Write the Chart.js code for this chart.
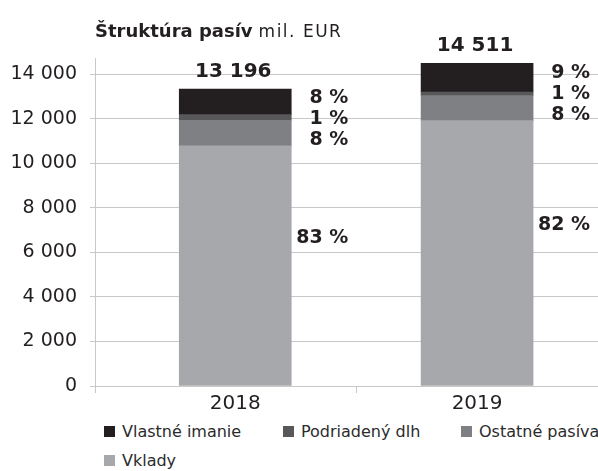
<!DOCTYPE html>
<html>
<head>
<meta charset="utf-8">
<script src="https://cdn.jsdelivr.net/npm/chart.js@4.4.1/dist/chart.umd.min.js"></script>
<style>
  html, body { margin: 0; padding: 0; background: #fff; }
  #wrap { position: relative; width: 598px; height: 471px; overflow: hidden; }
  #chart { display: block; }
  #legend {
    position: absolute; left: 104px; top: 422px;
    display: grid; grid-template-columns: 179px 178px 140px; row-gap: 11px;
    font: 16px "DejaVu Sans", sans-serif; color: #2b2b2b;
  }
  .item { display: flex; align-items: center; white-space: nowrap; height: 18px; }
  .box { width: 11px; height: 11px; margin-right: 7px; flex: none; }
</style>
</head>
<body>
<div id="wrap">
  <canvas id="chart" width="598" height="420"></canvas>
  <div id="legend"></div>
</div>
<script>
// values (mil. EUR)
const years = ['2018', '2019'];
const vklady = [10785, 11920];
const ostatnePasiva = [1150, 1120];
const podriadenyDlh = [250, 165];
const vlastneImanie = [1150, 1290];

// printed labels
const totals = [13196, 14511];
const shareVklady = [83, 82];
const shareOstatne = [8, 8];
const sharePodriadeny = [1, 1];
const shareVlastne = [8, 9];

const yTicks = [0, 2000, 4000, 6000, 8000, 10000, 12000, 14000];

const X_MIN = -0.58, X_MAX = 1.5;
const gridColor = '#c8c8c8';
const textColor = '#231f20';
const FONT = '"DejaVu Sans", sans-serif';

function formatNum(v) {
    return String(v).replace(/\B(?=(\d{3})+(?!\d))/g, ' ');
}

function points(values) {
    return values.map((v, i) => ({ x: i, y: v }));
}

// stacked bottom -> top
const series = [
    { label: 'Vklady', values: vklady, color: '#a7a8ab' },
    { label: 'Ostatné pasíva', values: ostatnePasiva, color: '#7f8083' },
    { label: 'Podriadený dlh', values: podriadenyDlh, color: '#58585a' },
    { label: 'Vlastné imanie', values: vlastneImanie, color: '#231f20' }
];

const titlePlugin = {
    id: 'mixedTitle',
    afterDraw(chart) {
        const ctx = chart.ctx;
        ctx.save();
        ctx.fillStyle = textColor;
        ctx.textBaseline = 'alphabetic';
        ctx.textAlign = 'left';
        ctx.font = 'bold 18px ' + FONT;
        ctx.fillText('Štruktúra pasív', 95, 37);
        const w = ctx.measureText('Štruktúra pasív').width;
        ctx.font = '17px ' + FONT;
        if ('letterSpacing' in ctx) ctx.letterSpacing = '1.5px';
        ctx.fillText('mil. EUR', 95 + w + 6, 37);
        ctx.restore();
    }
};

const labelsPlugin = {
    id: 'pasivaLabels',
    afterDatasetsDraw(chart) {
        const ctx = chart.ctx;
        const metas = series.map((s, i) => chart.getDatasetMeta(i));
        ctx.save();
        ctx.fillStyle = textColor;
        years.forEach((year, i) => {
            const bVklady = metas[0].data[i];
            const bVlastne = metas[3].data[i];
            const right = bVklady.x + bVklady.width / 2 + 57;

            ctx.font = 'bold 20px ' + FONT;
            ctx.textAlign = 'center';
            ctx.textBaseline = 'alphabetic';
            ctx.fillText(formatNum(totals[i]), bVlastne.x - 2, bVlastne.y - 12);

            ctx.font = 'bold 19px ' + FONT;
            ctx.textAlign = 'right';
            ctx.textBaseline = 'middle';
            const mid = (bVlastne.y + bVklady.y) / 2 + 2;
            ctx.fillText(shareVlastne[i] + ' %', right, mid - 21);
            ctx.fillText(sharePodriadeny[i] + ' %', right, mid);
            ctx.fillText(shareOstatne[i] + ' %', right, mid + 21);
            ctx.fillText(shareVklady[i] + ' %', right, (bVklady.y + bVklady.base) / 2 - 28);
        });
        ctx.restore();
    }
};

new Chart(document.getElementById('chart'), {
    type: 'bar',
    data: {
        datasets: series.map(s => ({
            label: s.label,
            data: points(s.values),
            backgroundColor: s.color,
            borderWidth: 0,
            barThickness: 112
        }))
    },
    options: {
        responsive: false,
        animation: false,
        layout: { padding: { top: 58, left: 0, right: 0, bottom: 0 } },
        plugins: {
            legend: { display: false },
            tooltip: { enabled: false }
        },
        scales: {
            x: {
                type: 'linear',
                stacked: true,
                offset: false,
                min: X_MIN,
                max: X_MAX,
                afterBuildTicks: scale => {
                    scale.ticks = [X_MIN, 0, 0.5, 1, X_MAX].map(v => ({ value: v }));
                },
                afterFit: scale => { scale.height = 34; },
                grid: {
                    offset: false,
                    drawOnChartArea: false,
                    tickLength: 7,
                    color: c => (c.tick && Number.isInteger(c.tick.value)) ? 'rgba(0,0,0,0)' : gridColor
                },
                border: { color: gridColor },
                ticks: {
                    padding: -1,
                    color: textColor,
                    font: { family: FONT, size: 20 },
                    maxRotation: 0,
                    autoSkip: false,
                    callback: v => (Number.isInteger(v) && years[v]) ? years[v] : ''
                }
            },
            y: {
                stacked: true,
                min: 0,
                max: 14730,
                afterBuildTicks: scale => {
                    scale.ticks = yTicks.map(v => ({ value: v }));
                },
                afterFit: scale => { scale.width = 95; },
                grid: { color: gridColor, tickLength: 5 },
                border: { color: gridColor },
                ticks: {
                    padding: 13,
                    color: textColor,
                    font: { family: FONT, size: 19 },
                    callback: v => formatNum(v)
                }
            }
        }
    },
    plugins: [titlePlugin, labelsPlugin]
});

// legend in the order of the reference
const legend = document.getElementById('legend');
series.slice().reverse().forEach(s => {
    const item = document.createElement('div');
    item.className = 'item';
    const box = document.createElement('span');
    box.className = 'box';
    box.style.background = s.color;
    item.appendChild(box);
    item.appendChild(document.createTextNode(s.label));
    legend.appendChild(item);
});
</script>
</body>
</html>
